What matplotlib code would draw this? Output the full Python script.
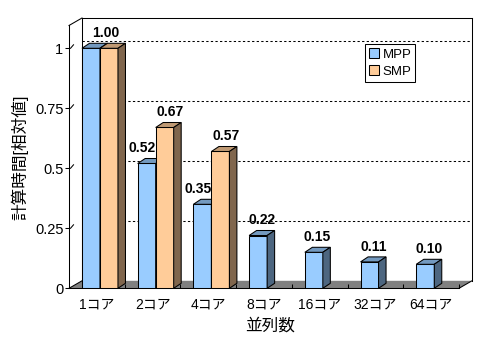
import matplotlib
matplotlib.use('Agg')
import matplotlib.pyplot as plt
from matplotlib.patches import Polygon, Patch
import numpy as np

plt.rcParams['font.family'] = ['Liberation Sans', 'Noto Sans CJK JP']

categories = ['1コア', '2コア', '4コア', '8コア', '16コア', '32コア', '64コア']
mpp = [1.00, 0.52, 0.35, 0.22, 0.15, 0.11, 0.10]
smp = [1.00, 0.67, 0.57, None, None, None, None]
yticks = [0, 0.25, 0.5, 0.75, 1]
ytick_labels = ['0', '0.25', '0.5', '0.75', '1']

# face colours: front, top, side
MPP_COL = ('#99ccff', '#7399bf', '#4d6680')
SMP_COL = ('#ffcc99', '#bf9973', '#80664d')

W, H = 496, 342
fig = plt.figure(figsize=(W / 100, H / 100), dpi=100)
ax = fig.add_axes([69 / W, 53.7 / H, 390 / W, 262.8 / H])
ymax = 1.095
ax.set_xlim(-0.5, 6.5)
ax.set_ylim(0, ymax)

# pixel -> data unit helpers
px_x = 390 / 7.0
px_y = 262.8 / ymax
WDX, WDY = 13 / px_x, 7.5 / px_y      # wall depth
BDX, BDY = 7.5 / px_x, 5 / px_y       # bar depth
BW = 0.323
SHIFT = 0.056

x = np.arange(len(categories))
lo, hi = -0.5, 6.5

# floor
ax.add_patch(Polygon([(lo, 0), (hi, 0), (hi + WDX, WDY), (lo + WDX, WDY)],
                     closed=True, fc='#808080', ec='none', zorder=1, clip_on=False))
ax.plot([lo, lo + WDX], [0, WDY], color='black', lw=0.75, zorder=1.2, clip_on=False)
ax.plot([hi, hi + WDX], [0, WDY], color='black', lw=0.75, zorder=1.2, clip_on=False)

# back wall outline
ax.plot([lo, lo + WDX], [ymax, ymax + WDY], color='black', lw=0.75, clip_on=False)
ax.plot([lo + WDX, hi + WDX], [ymax + WDY] * 2, color='black', lw=0.75, clip_on=False)
ax.plot([hi + WDX, hi + WDX], [WDY, ymax + WDY], color='black', lw=0.75, clip_on=False)
ax.plot([lo + WDX, lo + WDX], [WDY, ymax + WDY], color='black', lw=0.75, zorder=1.5,
        clip_on=False)

# dashed gridlines on the back wall
for v in yticks[1:]:
    ax.plot([lo + WDX, hi + WDX], [v + WDY] * 2, color='black', lw=0.75,
            dashes=(2.2, 2.2), zorder=1.4, clip_on=False)
    ax.plot([lo + 1.5 / px_x, lo + 4.5 / px_x], [v, v + 3.5 / px_y], color='black',
            lw=0.75, clip_on=False)


def bar3d(x0, v, cols, z):
    x1 = x0 + BW
    ax.bar(x0, v, width=BW, align='edge', color=cols[0], edgecolor='black',
           linewidth=0.75, zorder=z)
    ax.add_patch(Polygon([(x0, v), (x1, v), (x1 + BDX, v + BDY), (x0 + BDX, v + BDY)],
                         closed=True, fc=cols[1], ec='black', lw=0.75, zorder=z,
                         clip_on=False))
    ax.add_patch(Polygon([(x1, 0), (x1, v), (x1 + BDX, v + BDY), (x1 + BDX, BDY)],
                         closed=True, fc=cols[2], ec='black', lw=0.75, zorder=z,
                         clip_on=False))


def value_label(xc, v):
    ax.text(xc, v + 15 / px_y, f'{v:.2f}', ha='center', va='center',
            fontsize=10, fontweight='bold', zorder=10)


z = 3
for i in x:
    m, s = mpp[i], smp[i]
    xm = i - BW + SHIFT
    bar3d(xm, m, MPP_COL, z)
    z += 0.1
    if s is None:
        value_label(xm + BW / 2 + BDX / 2, m)
        continue
    bar3d(i + SHIFT, s, SMP_COL, z)
    z += 0.1
    if s == m:
        value_label(i + SHIFT + BDX / 2 + 2 / px_x, m)
    else:
        value_label(xm + BW / 2 + BDX / 2 - 8.5 / px_x, m)
        value_label(i + SHIFT + BW / 2 + BDX / 2 + 2 / px_x, s)

# axes styling
for side in ('top', 'right'):
    ax.spines[side].set_visible(False)
for side in ('left', 'bottom'):
    ax.spines[side].set_linewidth(0.75)
    ax.spines[side].set_zorder(2)

ax.set_yticks(yticks)
ax.set_yticklabels(ytick_labels, fontsize=10.5)
ax.tick_params(axis='y', direction='out', length=3, width=0.75, pad=1)
ax.set_xticks(x)
ax.set_xticklabels(categories, fontsize=10)
ax.tick_params(axis='x', which='major', length=0, pad=7)
ax.set_xticks(np.arange(0.5, 7.0, 1.0), minor=True)
ax.tick_params(axis='x', which='minor', direction='in', length=3, width=0.75)

fig.text(20 / W, 1 - 157 / H, '計算時間[相対値]', rotation=90, ha='center',
         va='center', fontsize=12)
fig.text(270 / W, 1 - 326 / H, '並列数', ha='center', va='center', fontsize=12)

handles = [Patch(fc=MPP_COL[0], ec='black', lw=0.75, label='MPP'),
           Patch(fc=SMP_COL[0], ec='black', lw=0.75, label='SMP')]
leg = fig.legend(handles=handles, loc='upper left',
                 bbox_to_anchor=(365.3 / W, 1 - 44.3 / H), fontsize=9.5,
                 frameon=True, fancybox=False, edgecolor='black', framealpha=1,
                 borderpad=0.3, handlelength=0.75, handleheight=0.75,
                 handletextpad=0.25, labelspacing=0.36, borderaxespad=0)
leg.get_frame().set_linewidth(0.75)

fig.savefig('out.png', dpi=100)
